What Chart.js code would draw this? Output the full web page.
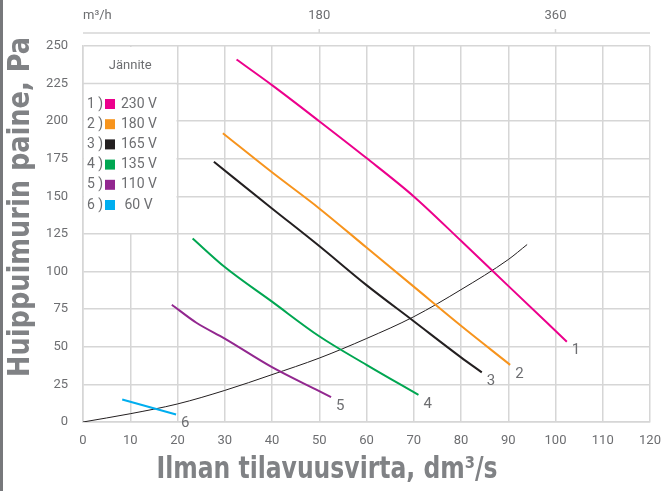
<!DOCTYPE html>
<html>
<head>
<meta charset="utf-8">
<script src="https://cdn.jsdelivr.net/npm/chart.js"></script>
<style>
  html, body { margin: 0; padding: 0; background: #fff; }
  canvas { display: block; }
</style>
</head>
<body>
<canvas id="chart" width="662" height="491"></canvas>
<script>
// fan curves, dm3/s -> Pa
const s230x = [32.5, 40, 50, 60, 70, 80, 90, 102.4];
const s230y = [241, 224, 200, 175.5, 150, 120.5, 90.5, 53.4];
const s180x = [29.6, 40, 50, 60, 70, 80, 90.4];
const s180y = [192, 166, 142, 116, 90, 64, 38];
const s165x = [27.7, 40, 50, 60, 70, 80, 84.4];
const s165y = [173, 142, 117, 91, 67, 43, 33];
const s135x = [23.2, 30, 40, 50, 60, 71];
const s135y = [122, 103, 80, 57, 38, 18];
const s110x = [18.8, 24, 30, 40, 50, 52.5];
const s110y = [78, 66, 55.5, 36.5, 20.5, 16.5];
const s60x = [8.3, 19.7];
const s60y = [15, 5];
// system curve
const sysX = [0, 10, 20, 30, 40, 50, 60, 70, 80, 90, 94];
const sysY = [0, 5.5, 12, 21, 31.5, 42.5, 55.5, 70, 88, 108, 118];

const voltages = ["230 V", "180 V", "165 V", "135 V", "110 V", " 60 V"];
const curveNames = ["1", "2", "3", "4", "5", "6"];
const colors = ["#ec008c", "#f7941d", "#231f20", "#00a651", "#92278f", "#00aeef"];
const topTicks = [180, 360]; // m3/h

const grey = "#6d6e71";
const gridColor = "#d6d6d6";
const toPts = (xs, ys) => xs.map((x, i) => ({ x: x, y: ys[i] }));

const curves = [
  toPts(s230x, s230y),
  toPts(s180x, s180y),
  toPts(s165x, s165y),
  toPts(s135x, s135y),
  toPts(s110x, s110y),
  toPts(s60x, s60y),
];

const datasets = curves.map((pts, i) => ({
  label: voltages[i],
  data: pts,
  borderColor: colors[i],
  borderWidth: 2,
  pointRadius: 0,
  cubicInterpolationMode: "monotone",
}));
datasets.push({
  label: "system",
  data: toPts(sysX, sysY),
  borderColor: "#231f20",
  borderWidth: 1,
  pointRadius: 0,
  cubicInterpolationMode: "monotone",
});

const decor = {
  id: "decor",
  beforeDraw(chart) {
    const ctx = chart.ctx;
    ctx.save();
    ctx.fillStyle = "#77787b";
    ctx.fillRect(0, 0, 3, chart.height);
    ctx.restore();
  },
  beforeDatasetsDraw(chart) {
    const { ctx, scales: { x, y } } = chart;
    const l = x.getPixelForValue(0), r = x.getPixelForValue(20);
    const t = y.getPixelForValue(250), b = y.getPixelForValue(125);
    ctx.save();
    ctx.fillStyle = "#fff";
    ctx.fillRect(l + 1, t + 1, r - l - 2, b - t - 2);
    ctx.strokeStyle = gridColor;
    ctx.lineWidth = 1.5;
    ctx.beginPath();
    const y225 = y.getPixelForValue(225);
    ctx.moveTo(l, y225);
    ctx.lineTo(r, y225);
    ctx.stroke();

    ctx.font = "13px Roboto";
    ctx.fillStyle = grey;
    ctx.textAlign = "center";
    ctx.textBaseline = "middle";
    ctx.fillText("Jännite", (l + r) / 2, (t + y225) / 2 + 1);

    ctx.font = "14px Roboto";
    voltages.forEach((v, i) => {
      const ry = t + 58 + i * 20.2;
      ctx.fillStyle = grey;
      ctx.textAlign = "left";
      ctx.fillText(curveNames[i] + " )", l + 4, ry);
      ctx.fillStyle = colors[i];
      ctx.fillRect(l + 22, ry - 5, 10, 10);
      ctx.fillStyle = grey;
      ctx.fillText(v, l + 38, ry);
    });
    ctx.restore();
  },
  afterDatasetsDraw(chart) {
    const ctx = chart.ctx;
    ctx.save();
    ctx.font = "15px Roboto";
    ctx.fillStyle = grey;
    ctx.textAlign = "left";
    ctx.textBaseline = "middle";
    curves.forEach((pts, i) => {
      const last = chart.getDatasetMeta(i).data[pts.length - 1];
      ctx.fillText(curveNames[i], last.x + 5, last.y + 9);
    });
    ctx.restore();
  },
  afterDraw(chart) {
    const { ctx, chartArea, scales: { x } } = chart;
    ctx.save();
    // top m3/h axis
    const ly = chartArea.top - 13;
    ctx.strokeStyle = gridColor;
    ctx.lineWidth = 1.5;
    ctx.beginPath();
    ctx.moveTo(chartArea.left, ly);
    ctx.lineTo(chartArea.right, ly);
    topTicks.forEach(t => {
      const px = x.getPixelForValue(t / 3.6);
      ctx.moveTo(px, ly);
      ctx.lineTo(px, ly - 4);
    });
    ctx.stroke();
    ctx.font = "13px Roboto";
    ctx.fillStyle = grey;
    ctx.textBaseline = "middle";
    ctx.textAlign = "center";
    topTicks.forEach(t => ctx.fillText(String(t), x.getPixelForValue(t / 3.6), 16));
    ctx.textAlign = "left";
    ctx.fillText("m³/h", chartArea.left, 16);

    // axis titles (slightly condensed)
    ctx.font = "bold 30px 'DejaVu Sans Condensed', 'DejaVu Sans', sans-serif";
    ctx.fillStyle = "#808285";
    ctx.textAlign = "center";
    ctx.save();
    ctx.translate(327, 470);
    ctx.scale(0.87, 1);
    ctx.fillText("Ilman tilavuusvirta, dm³/s", 0, 0);
    ctx.restore();
    ctx.translate(21, 207);
    ctx.rotate(-Math.PI / 2);
    ctx.scale(0.95, 1);
    ctx.fillText("Huippuimurin paine, Pa", 0, 0);
    ctx.restore();
  },
};

new Chart(document.getElementById("chart"), {
  type: "line",
  data: { datasets },
  options: {
    responsive: false,
    animation: false,
    layout: { padding: { left: 0, top: 46, right: 12, bottom: 0 } },
    plugins: { legend: { display: false }, tooltip: { enabled: false } },
    scales: {
      x: {
        type: "linear",
        min: 0,
        max: 120,
        ticks: { stepSize: 10, color: grey, font: { family: "Roboto", size: 13 }, padding: 11 },
        grid: { color: gridColor, lineWidth: 1.5, drawTicks: false },
        border: { color: gridColor, width: 1.5 },
        afterFit: s => { s.height = 69; s.paddingLeft = 0; s.paddingRight = 0; },
      },
      y: {
        min: 0,
        max: 250,
        ticks: { stepSize: 25, color: grey, font: { family: "Roboto", size: 13 }, padding: 15 },
        grid: { color: gridColor, lineWidth: 1.5, drawTicks: false },
        border: { color: gridColor, width: 1.5 },
        afterFit: s => { s.width = 83; s.paddingTop = 0; s.paddingBottom = 0; },
      },
    },
  },
  plugins: [decor],
});
</script>
</body>
</html>
